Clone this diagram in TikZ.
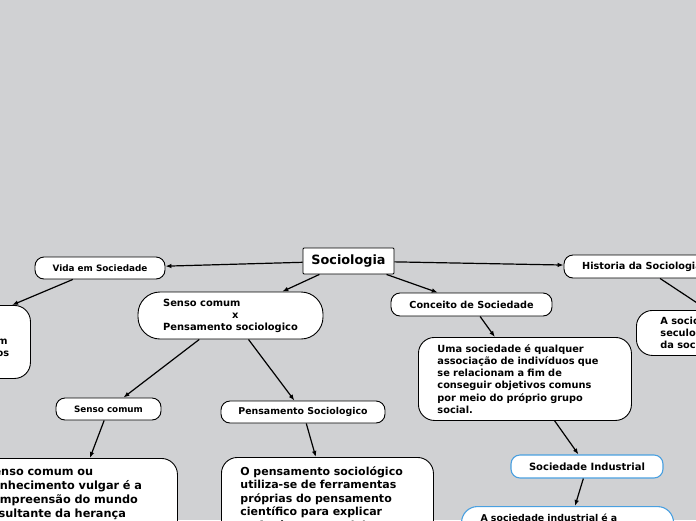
\documentclass[tikz,border=0pt]{standalone}
\usepackage{fontspec}
\setmainfont{DejaVu Sans}
\usetikzlibrary{arrows.meta}
\definecolor{bg}{RGB}{208,209,211}
\definecolor{blueline}{RGB}{74,160,224}
\begin{document}
\begin{tikzpicture}[x=1pt,y=-1pt,
  conn/.style={line width=1.2pt,-{Latex[length=6pt,width=4.6pt]}},
  box/.style={draw=black,line width=0.9pt,fill=white,inner sep=0pt},
  topic/.style={box,rounded corners=9pt,minimum height=22pt},
  detail/.style={box,rounded corners=16pt,align=left,anchor=north west},
  fs/.style 2 args={font=\bfseries\fontsize{#1}{#2}\selectfont}]
\useasboundingbox (0,0) rectangle (696,520);
\clip (0,0) rectangle (696,520);
\fill[bg] (0,0) rectangle (696,520);

\node[box,rounded corners=1pt,minimum width=91pt,minimum height=26pt,fs={12.8}{15}] (soc) at (348.5,261) {Sociologia};
\node[topic,minimum width=130pt,fs={8.85}{11}] (vida) at (100,268) {Vida em Sociedade};
\node[detail,text width=174pt,inner xsep=19pt,minimum height=73pt,fs={9.8}{12.2}] (vidatxt) at (-182,305) {Os seres humanos\\vivem em sociedade, que é um\\conjunto organizado de grupos};
\node[box,rounded corners=22pt,minimum width=185pt,minimum height=47pt,align=left,fs={9.9}{12}] (sxp) at (230.5,315.5) {Senso comum\\\hspace*{69pt}x\\Pensamento sociologico};
\node[topic,minimum width=161pt,minimum height=23pt,fs={9.7}{12}] (conc) at (471.5,304.5) {Conceito de Sociedade};
\node[topic,minimum width=156pt,minimum height=23pt,fs={9.7}{12}] (hist) at (642,266.5) {Historia da Sociologia};
\node[detail,text width=164pt,inner xsep=24pt,minimum height=45pt,fs={9.8}{12}] (histtxt) at (636,310) {A sociologia\\seculo XIX\\da sociedade};
\node[detail,text width=175pt,inner xsep=19pt,minimum height=83pt,fs={9.8}{12.2}] (uma) at (418,337) {Uma sociedade é qualquer\\associação de indivíduos que\\se relacionam a fim de\\conseguir objetivos comuns\\por meio do próprio grupo\\social.};
\node[topic,draw=blueline,line width=1.1pt,minimum width=152pt,minimum height=23pt,fs={10}{12}] (sind) at (587,466.5) {Sociedade Industrial};
\node[detail,draw=blueline,line width=1.1pt,text width=174pt,inner xsep=19pt,inner ysep=7pt,fs={9.4}{12.2}] (indtxt) at (461,506) {A sociedade industrial é a\\sociedade que surgiu com\\a Revolução Industrial.};
\node[topic,minimum width=105pt,fs={8.8}{11}] (senso) at (108.5,409) {Senso comum};
\node[topic,minimum width=164pt,fs={9.4}{11}] (pens) at (303,412) {Pensamento Sociologico};
\node[detail,text width=172pt,inner xsep=20pt,inner ysep=9pt,fs={11.3}{14}] (sensotxt) at (-35,458) {Senso comum ou\\conhecimento vulgar é a\\compreensão do mundo\\resultante da herança\\cultural de um grupo\\social.};
\node[detail,text width=174pt,inner xsep=19pt,inner ysep=9pt,fs={11}{13.5}] (penstxt) at (221,457) {O pensamento sociológico\\utiliza-se de ferramentas\\próprias do pensamento\\científico para explicar\\os fenômenos sociais.};

\draw[conn] (soc) -- (vida);
\draw[conn] (soc) -- (hist);
\draw[conn] (soc) -- (sxp);
\draw[conn] (soc) -- (conc);
\draw[conn] (vida) -- (vidatxt);
\draw[conn] (sxp) -- (senso);
\draw[conn] (sxp) -- (pens);
\draw[conn] (senso) -- (sensotxt);
\draw[conn] (pens) -- (penstxt);
\draw[conn] (conc) -- (uma);
\draw[conn] (hist) -- (histtxt);
\draw[conn] (uma) -- (sind);
\draw[conn] (sind) -- (indtxt);
\end{tikzpicture}
\end{document}
